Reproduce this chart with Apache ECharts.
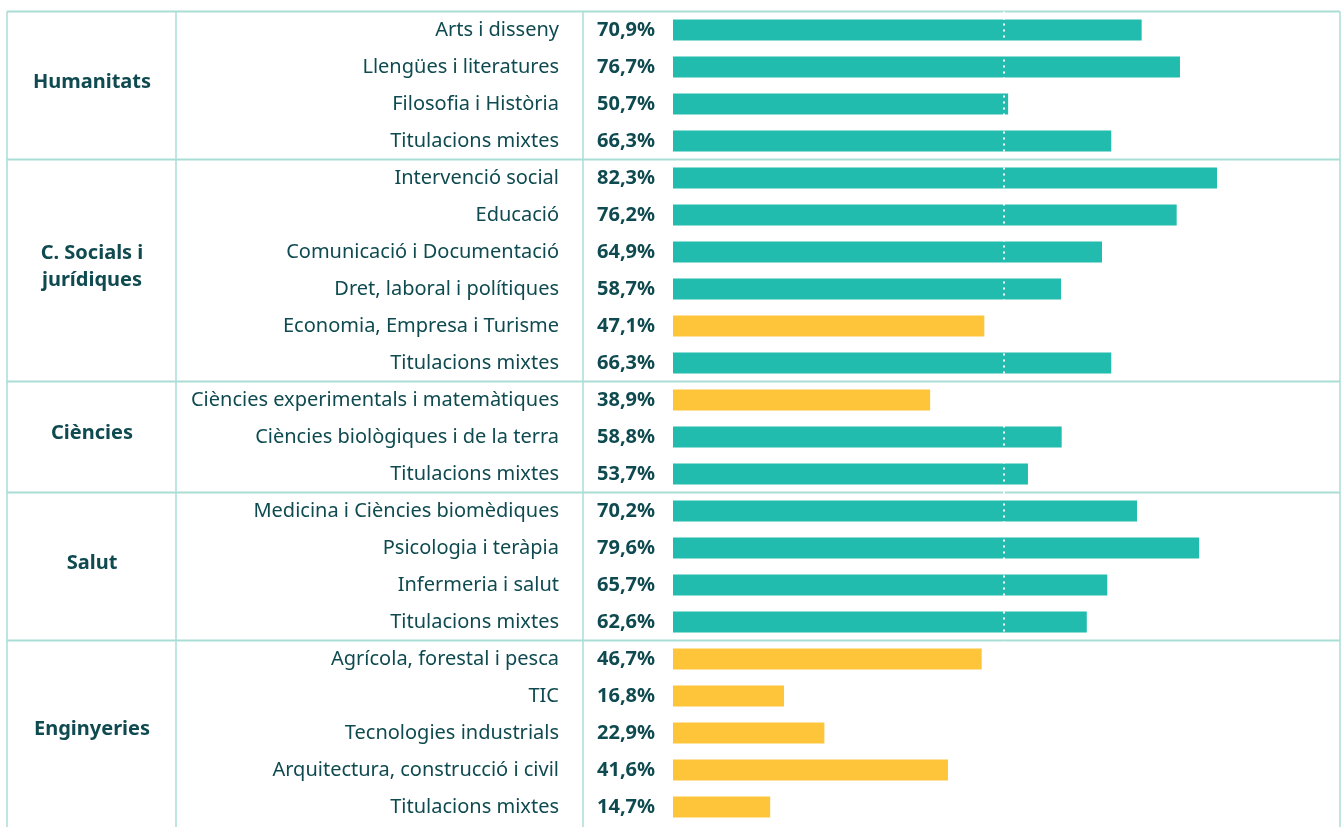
<!DOCTYPE html>
<html><head><meta charset="utf-8">
<script src="https://cdn.jsdelivr.net/npm/echarts@6/dist/echarts.min.js"></script>
<style>html,body{margin:0;padding:0;background:#fff}#c{width:1341px;height:827px}</style>
</head><body><div id="c"></div>
<script>
var groups = ['Humanitats', 'C. Socials i\njurídiques', 'Ciències', 'Salut', 'Enginyeries'];
var groupSizes = [4, 6, 3, 4, 5];
var categories = [
  'Arts i disseny', 'Llengües i literatures', 'Filosofia i Història', 'Titulacions mixtes',
  'Intervenció social', 'Educació', 'Comunicació i Documentació', 'Dret, laboral i polítiques', 'Economia, Empresa i Turisme', 'Titulacions mixtes',
  'Ciències experimentals i matemàtiques', 'Ciències biològiques i de la terra', 'Titulacions mixtes',
  'Medicina i Ciències biomèdiques', 'Psicologia i teràpia', 'Infermeria i salut', 'Titulacions mixtes',
  'Agrícola, forestal i pesca', 'TIC', 'Tecnologies industrials', 'Arquitectura, construcció i civil', 'Titulacions mixtes'
];
var values = [70.9, 76.7, 50.7, 66.3, 82.3, 76.2, 64.9, 58.7, 47.1, 66.3, 38.9, 58.8, 53.7, 70.2, 79.6, 65.7, 62.6, 46.7, 16.8, 22.9, 41.6, 14.7];
var threshold = 50;

var TXT = '#0e4a4f', TEAL = '#22bcae', YEL = '#ffc53a', LINE = '#a9ddd6';
var FONT = '"Noto Sans", sans-serif';
function fmt(v) { return v.toFixed(1).replace('.', ',') + '%'; }
var idx = categories.map(function (_, i) { return String(i); });

var chart = echarts.init(document.getElementById('c'), null, {renderer: 'canvas'});
chart.setOption({
  animation: false,
  grid: {left: 673, top: 11.5, height: 814, width: 661, containLabel: false},
  xAxis: {type: 'value', min: 0, max: 100, show: false},
  yAxis: [
    {type: 'category', inverse: true, data: idx, position: 'left',
     axisLine: {show: false}, axisTick: {show: false}, splitLine: {show: false},
     axisLabel: {margin: 114, color: TXT, fontSize: 20, fontFamily: FONT, align: 'right', padding: [3, 0, 0, 0],
       formatter: function (v, i) { return categories[i]; }}},
    {type: 'category', inverse: true, data: idx, position: 'left',
     axisLine: {show: false}, axisTick: {show: false}, splitLine: {show: false},
     axisLabel: {margin: 76, color: TXT, fontSize: 20, fontWeight: 'bold', fontFamily: FONT, align: 'left', padding: [3, 0, 0, 0],
       formatter: function (v, i) { return fmt(values[i]); }}}
  ],
  series: [{
    type: 'bar', data: values, barWidth: 21, yAxisIndex: 0,
    itemStyle: {color: function (p) { return p.value < threshold ? YEL : TEAL; }},
    markLine: {silent: true, symbol: 'none', z: 10, label: {show: false},
      lineStyle: {color: '#fff', width: 2, type: [2, 4]},
      data: [{xAxis: threshold}]}
  }]
});

function draw() {
  var gfx = [];
  var rowH = chart.convertToPixel({yAxisIndex: 0}, '1') - chart.convertToPixel({yAxisIndex: 0}, '0');
  var top = chart.convertToPixel({yAxisIndex: 0}, '0') - rowH / 2;
  var bottom = 827;
  [7, 176, 583, 1340].forEach(function (x) {
    gfx.push({type: 'line', shape: {x1: x, y1: top, x2: x, y2: bottom}, style: {stroke: LINE, lineWidth: 1.5}, z: 1});
  });
  gfx.push({type: 'line', shape: {x1: 7, y1: top, x2: 1340, y2: top}, style: {stroke: LINE, lineWidth: 2}, z: 1});
  var start = 0;
  groupSizes.forEach(function (n, g) {
    var y0 = chart.convertToPixel({yAxisIndex: 0}, String(start));
    var y1 = chart.convertToPixel({yAxisIndex: 0}, String(start + n - 1));
    gfx.push({type: 'text', x: 92, y: (y0 + y1) / 2 - 3.5, z: 5,
      style: {text: groups[g], fill: TXT, font: 'bold 20px ' + FONT, align: 'center', verticalAlign: 'middle', lineHeight: 27}});
    if (g < groupSizes.length - 1) {
      var ys = y1 + rowH / 2;
      gfx.push({type: 'line', shape: {x1: 7, y1: ys, x2: 1340, y2: ys}, style: {stroke: LINE, lineWidth: 2}, z: 1});
    }
    start += n;
  });
  chart.setOption({graphic: gfx});
}
draw();
</script></body></html>
